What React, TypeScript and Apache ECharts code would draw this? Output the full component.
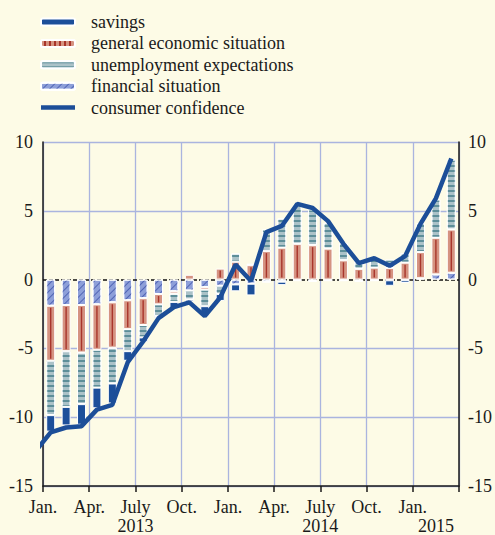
import React, { useEffect, useRef } from 'react';
import * as echarts from 'echarts';

// Months from Jan 2013 to Mar 2015
const MONTHS = [
  '2013-01', '2013-02', '2013-03', '2013-04', '2013-05', '2013-06', '2013-07', '2013-08', '2013-09',
  '2013-10', '2013-11', '2013-12', '2014-01', '2014-02', '2014-03', '2014-04', '2014-05', '2014-06',
  '2014-07', '2014-08', '2014-09', '2014-10', '2014-11', '2014-12', '2015-01', '2015-02', '2015-03',
];
const QUARTER_LABELS = ['Jan.', 'Apr.', 'July', 'Oct.', 'Jan.', 'Apr.', 'July', 'Oct.', 'Jan.'];
const YEARS = ['2013', '2014', '2015'];

const FINANCIAL = [
  -1.9, -1.85, -1.85, -1.8, -1.65, -1.5, -1.35, -1.05, -0.85, -0.8, -0.55, -0.45, -0.35, -0.3,
  -0.15, -0.15, -0.05, -0.1, -0.05, -0.05, -0.1, -0.05, -0.05, -0.05, 0.1, 0.38, 0.5,
];
const GENERAL = [
  -4.0, -3.35, -3.45, -3.3, -3.3, -2.1, -1.95, -0.75, -0.17, 0.35, -0.18, 0.8, 1.3, 1.05,
  2.07, 2.32, 2.6, 2.5, 2.25, 1.4, 0.78, 0.87, 0.85, 1.23, 1.9, 2.66, 3.14,
];
const UNEMPLOYMENT = [
  -3.95, -4.05, -3.75, -2.75, -2.6, -1.6, -0.9, -0.85, -0.6, -0.65, -1.2, -0.6, 0.6, 0.1,
  1.57, 2.12, 2.8, 2.6, 1.88, 1.25, 0.55, 0.72, 0.6, 0.7, 2.1, 2.78, 5.08,
];
const SAVINGS = [
  -1.2, -1.35, -1.5, -1.5, -1.45, -0.7, -0.35, -0.12, -0.5, -0.15, -0.7, -0.5, -0.5, -0.85,
  -0.05, -0.25, -0.05, -0.05, -0.05, -0.05, -0.05, -0.05, -0.4, -0.2, 0, 0, 0,
];
const CONFIDENCE = [
  -11.1, -10.75, -10.65, -9.45, -9.1, -6.0, -4.5, -2.8, -2.0, -1.65, -2.65, -1.3, 1.1, -0.1,
  3.45, 3.9, 5.5, 5.2, 4.25, 2.6, 1.2, 1.55, 1.0, 1.7, 4.05, 5.9, 8.8,
];
const CONFIDENCE_DEC_2012 = -12.5;

const BG = '#fdfbe6';
const GRID = '#aab4df';
const INK = '#1a1a1a';
const BLUE = '#1c4e98';
const FONT = 'Liberation Serif';

const RED_DECAL = {
  symbol: 'rect', symbolSize: 1, color: '#a8352b',
  dashArrayX: [1, 0], dashArrayY: [1.3, 3], rotation: Math.PI / 2,
};
const UNEMP_DECAL = {
  symbol: 'rect', symbolSize: 1, color: '#5d8e99',
  dashArrayX: [1, 0], dashArrayY: [1.2, 2.8], rotation: 0,
};
const FIN_DECAL = {
  symbol: 'rect', symbolSize: 1, color: '#5064b4',
  dashArrayX: [1, 0], dashArrayY: [1, 4], rotation: -Math.PI / 4,
};

function buildOption() {
  const xs = MONTHS.map((_, i) => i + 0.5);
  const yearStarts = YEARS.map((y) => MONTHS.findIndex((m) => m.startsWith(y)));
  const yearCenters = YEARS.map((y, k) => {
    const n = MONTHS.filter((m) => m.startsWith(y)).length;
    return yearStarts[k] + n / 2;
  });

  // data as [value, x] so that stacking happens on the value (y) dimension
  const barSeries = (name: string, vals: number[], color: string, decal?: any, extra?: any) => ({
    type: 'bar',
    name,
    stack: 'components',
    barWidth: 9,
    encode: { x: 1, y: 0 },
    data: vals.map((v, i) => [v === 0 ? '-' : v, xs[i]]),
    itemStyle: { color, borderColor: '#ffffff', borderWidth: 1, decal },
    emphasis: { disabled: true },
    ...extra,
  });

  const stripeData = GENERAL.map((g, i) => {
    const f = FINANCIAL[i];
    const base = f !== 0 && Math.sign(f) === Math.sign(g) ? f : 0;
    return [xs[i], base, base + g];
  });

  const axisFont = { fontFamily: FONT, fontSize: 18, color: INK, lineHeight: 18 };

  return {
    animation: false,
    backgroundColor: BG,
    grid: { left: 43, right: 36, top: 142, bottom: 48, containLabel: false },
    legend: {
      orient: 'vertical',
      left: 40,
      top: 13,
      padding: 0,
      itemWidth: 34,
      itemHeight: 7,
      itemGap: 3.4,
      selectedMode: false,
      textStyle: { ...axisFont, padding: [0, 0, 0, 11] },
      data: [
        { name: 'savings' },
        { name: 'general economic situation', itemStyle: { decal: RED_DECAL } },
        { name: 'unemployment expectations' },
        { name: 'financial situation' },
        {
          name: 'consumer confidence',
          icon: 'path://M0,0 L34,0 L34,4.5 L0,4.5 Z',
          itemStyle: { color: BLUE, borderWidth: 0 },
        },
      ],
    },
    xAxis: [
      {
        type: 'value',
        min: 0,
        max: 27,
        interval: 3,
        position: 'bottom',
        axisLine: { show: true, onZero: false, lineStyle: { color: INK, width: 1.5 } },
        axisTick: { show: true, length: 6, lineStyle: { color: INK, width: 1.5 } },
        axisLabel: {
          ...axisFont,
          margin: 12,
          showMaxLabel: true,
          formatter: (v: number) => QUARTER_LABELS[Math.round(v / 3)] ?? '',
        },
        splitLine: { show: true, lineStyle: { color: GRID, width: 1.3 } },
      },
      {
        type: 'value',
        min: 0,
        max: 27,
        position: 'bottom',
        offset: 19,
        axisLine: { show: false },
        axisTick: { show: false },
        splitLine: { show: false },
        axisLabel: {
          ...axisFont,
          margin: 12,
          customValues: yearCenters,
          formatter: (v: number) => {
            const k = yearCenters.findIndex((c) => Math.abs(c - v) < 1e-6);
            return k >= 0 ? YEARS[k] : '';
          },
        },
      },
    ],
    yAxis: [
      {
        type: 'value',
        min: -15,
        max: 10,
        interval: 5,
        position: 'left',
        axisLine: { show: true, onZero: false, lineStyle: { color: INK, width: 1.5 } },
        axisTick: { show: false },
        axisLabel: { ...axisFont, margin: 10 },
        splitLine: {
          show: true,
          lineStyle: { color: [GRID, GRID, GRID, 'rgba(0,0,0,0)', GRID, GRID], width: 1.3 },
        },
      },
      {
        type: 'value',
        min: -15,
        max: 10,
        interval: 5,
        position: 'right',
        axisLine: { show: true, onZero: false, lineStyle: { color: INK, width: 1.5 } },
        axisTick: { show: false },
        axisLabel: { ...axisFont, margin: 9 },
        splitLine: { show: false },
      },
    ],
    series: [
      barSeries('financial situation', FINANCIAL, '#8d9fd9', FIN_DECAL, {
        markLine: {
          silent: true,
          symbol: ['none', 'none'],
          label: { show: false },
          lineStyle: { color: '#111', type: [4, 2], width: 1.5 },
          data: [{ yAxis: 0 }],
          z: 1,
        },
      }),
      barSeries('general economic situation', GENERAL, '#d59381'),
      barSeries('unemployment expectations', UNEMPLOYMENT, '#abc2c8', UNEMP_DECAL),
      barSeries('savings', SAVINGS, '#1c4f9a'),
      {
        type: 'custom',
        name: 'general stripes',
        silent: true,
        z: 3,
        data: stripeData,
        encode: { x: 0, y: [1, 2] },
        renderItem: (params: any, api: any) => {
          const p1 = api.coord([api.value(0), api.value(1)]);
          const p2 = api.coord([api.value(0), api.value(2)]);
          const top = Math.min(p1[1], p2[1]) + 2;
          const bot = Math.max(p1[1], p2[1]) - 2;
          if (bot - top < 1) return null;
          return {
            type: 'line',
            shape: { x1: p1[0], y1: top, x2: p1[0], y2: bot },
            style: { stroke: '#a8352b', lineWidth: 1.4 },
          };
        },
      },
      {
        type: 'line',
        name: 'consumer confidence',
        data: [[-0.5, CONFIDENCE_DEC_2012], ...CONFIDENCE.map((v, i) => [xs[i], v])],
        symbol: 'none',
        showSymbol: false,
        clip: true,
        z: 5,
        lineStyle: { color: BLUE, width: 4.5 },
        itemStyle: { color: BLUE },
        emphasis: { disabled: true },
      },
    ],
  };
}

export default function App() {
  const ref = useRef<HTMLDivElement>(null);
  useEffect(() => {
    if (!ref.current) return;
    const chart = echarts.init(ref.current, null, { renderer: 'svg' });
    chart.setOption(buildOption() as any);
    return () => chart.dispose();
  }, []);
  return (
    <div
      ref={ref}
      style={{ position: 'absolute', left: 0, top: 0, width: 495, height: 535, background: BG }}
    />
  );
}
